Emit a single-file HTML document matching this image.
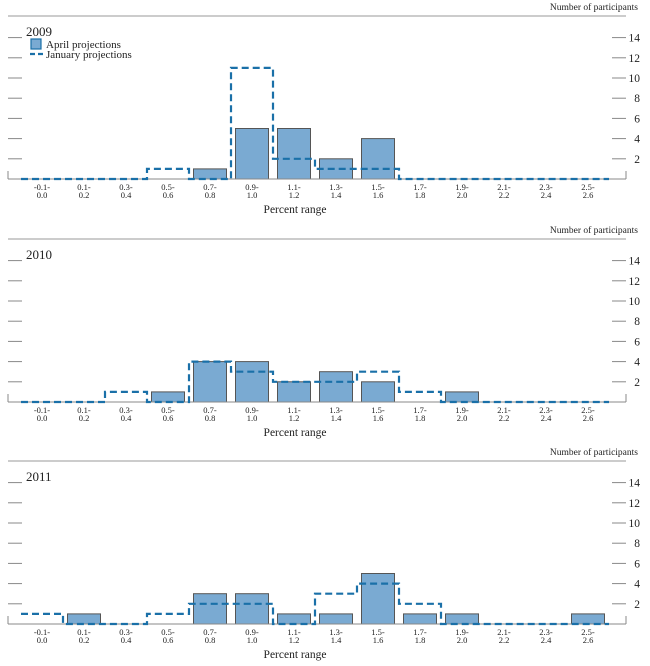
<!DOCTYPE html>
<html><head><meta charset="utf-8"><style>
body{margin:0;background:#fff;font-family:"Liberation Serif",serif;}
svg text{font-family:"Liberation Serif",serif;fill:#222;}
</style></head><body>
<svg id="chart" width="650" height="661" xmlns="http://www.w3.org/2000/svg"></svg>
<script>
const categories = ["-0.1-|0.0","0.1-|0.2","0.3-|0.4","0.5-|0.6","0.7-|0.8","0.9-|1.0","1.1-|1.2","1.3-|1.4","1.5-|1.6","1.7-|1.8","1.9-|2.0","2.1-|2.2","2.3-|2.4","2.5-|2.6"];
const years = ["2009","2010","2011"];
const april2009 = [0,0,0,0,1,5,5,2,4,0,0,0,0,0];
const january2009 = [0,0,0,1,0,11,2,1,1,0,0,0,0,0];
const april2010 = [0,0,0,1,4,4,2,3,2,0,1,0,0,0];
const january2010 = [0,0,1,0,4,3,2,2,3,1,0,0,0,0];
const april2011 = [0,1,0,0,3,3,1,1,5,1,1,0,0,1];
const january2011 = [1,0,0,1,2,2,0,3,4,2,0,0,0,0];
const yTicks = [2,4,6,8,10,12,14];
const aprilSeries = [april2009, april2010, april2011];
const januarySeries = [january2009, january2010, january2011];

const svg = document.getElementById('chart');
const NS = "http://www.w3.org/2000/svg";
function mk(tag, attrs, parent){const e=document.createElementNS(NS,tag);for(const k in attrs)e.setAttribute(k,attrs[k]);(parent||svg).appendChild(e);return e;}
const panelTop = [16,239,461];
const unit = 10.1;
function xCenter(i){return 42 + 42*i;}

panelTop.forEach((top, p) => {
  const g = mk('g', {});
  
  
  const base = top + 163;
  const y = v => base - v*unit;
  const t = mk('text',{x:638,y:top-6,'font-size':9.5,'text-anchor':'end'},g); t.textContent='Number of participants';
  
  
  const tl = mk('line',{x1:8,x2:626,y1:top,y2:top,stroke:'#999','stroke-width':1},g);
  
  
  const yr = mk('text',{x:26,y:top+20,'font-size':13},g); yr.textContent=years[p];
  
  
  [2,4,6,8,10,12,14].forEach(v=>{ mk('line',{x1:8,x2:22,y1:y(v),y2:y(v),stroke:'#888'},g); });
  yTicks.forEach(v=>{
    mk('line',{x1:612,x2:626,y1:y(v),y2:y(v),stroke:'#888'},g);
    const lt = mk('text',{x:640,y:y(v)+4,'font-size':11.5,'text-anchor':'end'},g); lt.textContent=v;
    
    
  });
  aprilSeries[p].forEach((v,i)=>{
    if(v<=0) return;
    const r = mk('rect',{x:xCenter(i)-16.5,y:y(v),width:33,height:v*unit,fill:'#7aaad2',stroke:'#555','stroke-width':1},g);
    
    
  });
  mk('line',{x1:8,x2:626,y1:base,y2:base,stroke:'#888'},g);
  mk('line',{x1:8,x2:8,y1:base-8,y2:base,stroke:'#888'},g);
  mk('line',{x1:626,x2:626,y1:base-8,y2:base,stroke:'#888'},g);
  const jan = januarySeries[p];
  let d='';
  jan.forEach((v,i)=>{
    const x0=xCenter(i)-21, x1=xCenter(i)+21;
    if(i===0) d+='M'+x0+','+y(v); else d+='L'+x0+','+y(v);
    d+='L'+x1+','+y(v);
  });
  const path = mk('path',{d:d,fill:'none',stroke:'#1a70a8','stroke-width':2.2,'stroke-dasharray':'7,4'},g);
  
  
  categories.forEach((c,i)=>{
    const parts=c.split('|');
    const a=mk('text',{x:xCenter(i),y:base+11,'font-size':8.5,'text-anchor':'middle',fill:'#666'},g); a.textContent=parts[0];
    
    
    const b=mk('text',{x:xCenter(i),y:base+19,'font-size':8.5,'text-anchor':'middle',fill:'#666'},g); b.textContent=parts[1];
    
    
  });
  const xt = mk('text',{x:295,y:base+34,'font-size':11.5,'text-anchor':'middle'},g); xt.textContent='Percent range';
  
  
  if(p===0){
    const lg = mk('g',{},g);
    
    
    mk('rect',{x:31,y:39,width:10,height:10,fill:'#7aaad2',stroke:'#1a70a8','stroke-width':1.2},lg);
    const l1=mk('text',{x:46,y:48,'font-size':11},lg); l1.textContent='April projections';
    
    
    mk('line',{x1:30,x2:43,y1:54,y2:54,stroke:'#1a70a8','stroke-width':2.2,'stroke-dasharray':'5,3'},lg);
    const l2=mk('text',{x:46,y:58,'font-size':11},lg); l2.textContent='January projections';
    
    
  }
});
</script>
</body></html>
